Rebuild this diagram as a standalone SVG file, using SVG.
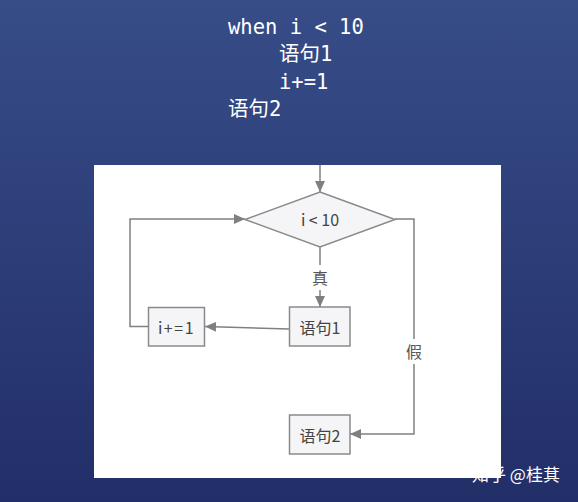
<svg xmlns="http://www.w3.org/2000/svg" width="578" height="502" viewBox="0 0 578 502">
<defs>
<linearGradient id="bg" x1="0" y1="0" x2="0" y2="1">
<stop offset="0" stop-color="#374d88"/>
<stop offset="1" stop-color="#222e68"/>
</linearGradient>
<marker id="ah" markerWidth="12" markerHeight="10" refX="11" refY="5" orient="auto" markerUnits="userSpaceOnUse">
<path d="M0,0 L11,5 L0,10 Z" fill="#7f7f7f"/>
</marker>
<style>
.code{font-family:"DejaVu Sans Mono","Noto Sans CJK SC",monospace;font-size:20.5px;fill:#ffffff}
.node{fill:#f5f5f7;stroke:#8a8a8a;stroke-width:1.5}
.lbl{font-family:"Noto Sans CJK SC","Liberation Sans",sans-serif;font-size:16px;fill:#444;text-anchor:middle;dominant-baseline:central}
.edge{fill:none;stroke:#808080;stroke-width:1.5}
.el{font-family:"Noto Sans CJK SC",sans-serif;font-size:16px;fill:#555;text-anchor:middle;dominant-baseline:central}
.wm{font-family:"Noto Sans CJK SC",sans-serif;font-size:17px;fill:#ffffff}
</style>
</defs>
<rect width="578" height="502" fill="url(#bg)"/>
<g id="code">
<text class="code" x="228" y="34">when i &lt; 10</text>
<text class="code" x="279" y="61">语句1</text>
<text class="code" x="279" y="89">i+=1</text>
<text class="code" x="228" y="116">语句2</text>
</g>
<rect x="94" y="165" width="407" height="313" fill="#ffffff"/>
<g id="connectors">
<line class="edge" x1="320" y1="165" x2="320" y2="192" marker-end="url(#ah)"/>
<line class="edge" x1="320" y1="247" x2="320" y2="265"/>
<text class="el" x="320" y="277">真</text>
<line class="edge" x1="320" y1="290" x2="320" y2="307" marker-end="url(#ah)"/>
<line class="edge" x1="289" y1="329" x2="205" y2="326.5" marker-end="url(#ah)"/>
<polyline class="edge" points="148,326.5 130,326.5 130,219 245,219" marker-end="url(#ah)"/>
<polyline class="edge" points="395,219 414,219 414,339"/>
<text class="el" x="414" y="351">假</text>
<polyline class="edge" points="414,364 414,434 350,434" marker-end="url(#ah)"/>
</g>
<g id="cond">
<polygon class="node" points="320,192 395,219.5 320,247 245,219.5"/>
<text class="lbl" x="320" y="219">i &lt; 10</text>
</g>
<g id="stmt1">
<rect class="node" x="289.5" y="307" width="60.5" height="39"/>
<text class="lbl" x="320" y="326.5">语句1</text>
</g>
<g id="inc">
<rect class="node" x="148.5" y="307.5" width="56" height="38.5"/>
<text class="lbl" x="176.5" y="326.5" letter-spacing="1.5">i+=1</text>
</g>
<g id="stmt2">
<rect class="node" x="289.5" y="415" width="60.5" height="39"/>
<text class="lbl" x="320" y="434.5">语句2</text>
</g>
<text class="wm" x="472" y="481">知乎 @桂萁</text>
</svg>
